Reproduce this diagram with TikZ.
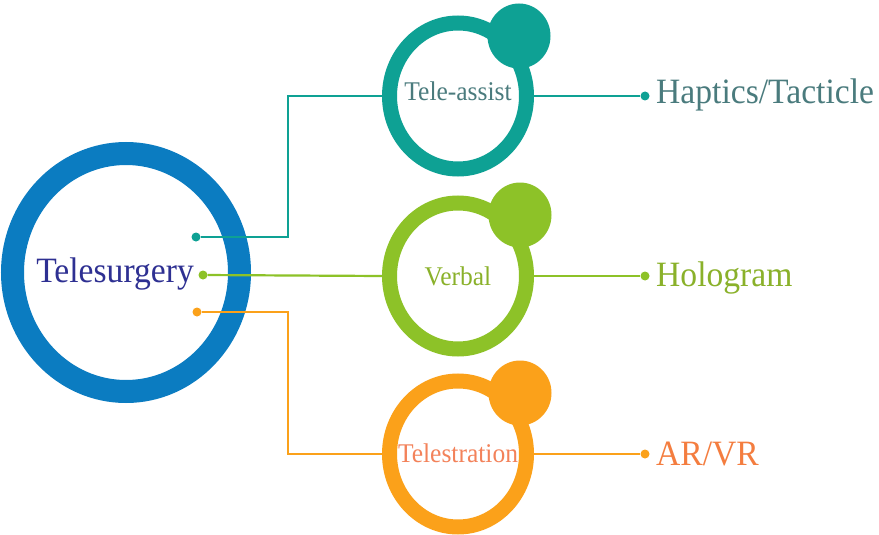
\documentclass[tikz,border=0pt]{standalone}
\usepackage{fontspec}
\setmainfont{Liberation Serif}
\usetikzlibrary{shapes.geometric}
\definecolor{ringblue}{HTML}{0B7CC1}
\definecolor{tstext}{HTML}{2E3092}
\definecolor{tealc}{HTML}{0EA194}
\definecolor{tealtext}{HTML}{4A7B7D}
\definecolor{greenc}{HTML}{8DC228}
\definecolor{greentext}{HTML}{8AB12A}
\definecolor{orangec}{HTML}{FBA11A}
\definecolor{orangetext}{HTML}{F3825A}
\definecolor{arvrtext}{HTML}{F47D3F}
\newcommand{\vstretch}[1]{\scalebox{1}[1.06]{#1}}
\begin{document}
\begin{tikzpicture}[x=1pt,y=-1pt,
  bigring/.style={ellipse, draw=ringblue, line width=23pt, minimum width=227pt, minimum height=238pt, inner sep=0pt},
  ring/.style={ellipse, line width=15pt, minimum width=137pt, minimum height=146pt, inner sep=0pt},
  knob/.style={ellipse, minimum width=63pt, minimum height=65pt, inner sep=0pt},
  dot/.style={circle, minimum size=9pt, inner sep=0pt},
  conn/.style={line width=2.2pt},
  bigtext/.style={font=\fontsize{33.6}{38}\selectfont, inner sep=0pt, anchor=base},
  smalltext/.style={font=\fontsize{25.5}{29}\selectfont, inner sep=0pt, anchor=base},
  sidetext/.style={font=\fontsize{33.6}{38}\selectfont, inner sep=0pt, anchor=base west}]
\fill[white] (0,0) rectangle (879,535);
\useasboundingbox (0,0) rectangle (879,535);
% main ring
\node[bigring] (ts) at (126,272.5) {};
\node[bigtext, text=tstext] (tslabel) at (115,282) {\vstretch{Telesurgery}};
% secondary rings
\node[ring, draw=tealc] (ta) at (458,96) {};
\node[ring, draw=greenc] (vb) at (458,276) {};
\node[ring, draw=orangec] (tl) at (458,454) {};
\node[knob, fill=tealc] (ka) at (519,36) {};
\node[knob, fill=greenc] (kv) at (520,215) {};
\node[knob, fill=orangec] (kt) at (520,393) {};
\node[smalltext, text=tealtext] (talabel) at (458,100) {\vstretch{Tele-assist}};
\node[smalltext, text=greentext] (vblabel) at (458,285) {\vstretch{Verbal}};
\node[smalltext, text=orangetext] (tllabel) at (458,462) {\vstretch{Telestration}};
% dots
\node[dot, fill=tealc] (d1) at (196,237) {};
\node[dot, fill=greenc] (d2) at (203,275) {};
\node[dot, fill=orangec] (d3) at (197,312) {};
\node[dot, fill=tealc] (r1) at (645,96) {};
\node[dot, fill=greenc] (r2) at (645,276) {};
\node[dot, fill=orangec] (r3) at (645,454) {};
\coordinate (e1) at (288,237);
\coordinate (e3) at (288,312);
% connectors
\draw[conn, tealc] (d1) -- (e1) |- (ta.west);
\draw[conn, greenc] (d2) -- (vb.west);
\draw[conn, orangec] (d3) -- (e3) |- (tl.west);
\draw[conn, tealc] (ta.east) -- (r1);
\draw[conn, greenc] (vb.east) -- (r2);
\draw[conn, orangec] (tl.east) -- (r3);
% side labels
\node[sidetext, text=tealtext] (hap) at (656,103) {\vstretch{Haptics/Tacticle}};
\node[sidetext, text=greentext] (holo) at (656,286) {\vstretch{Hologram}};
\node[sidetext, text=arvrtext] (arvr) at (656,465) {\vstretch{AR/VR}};
\end{tikzpicture}
\end{document}
